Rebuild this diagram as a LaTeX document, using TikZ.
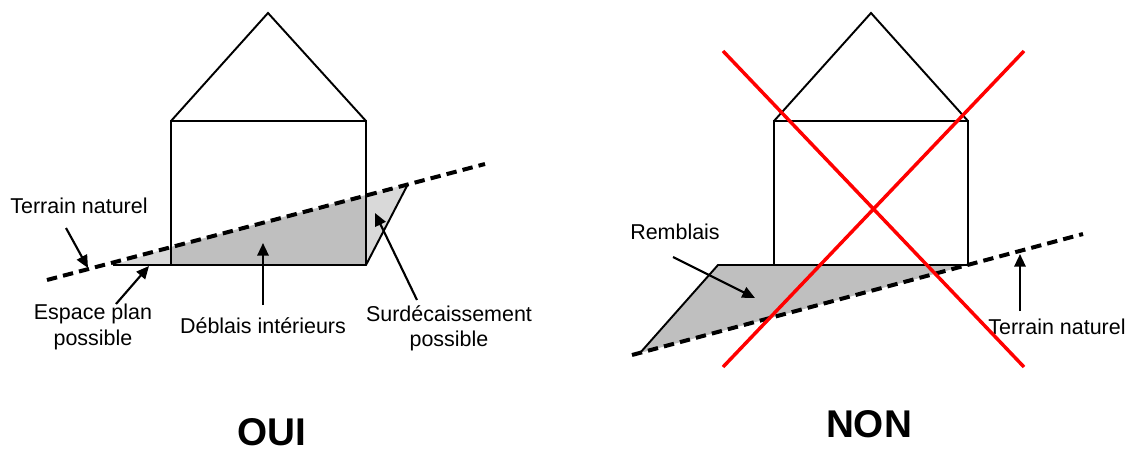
\documentclass[tikz,border=0pt]{standalone}
\usepackage{fontspec}
\setmainfont{Liberation Sans}
\usetikzlibrary{arrows.meta}
\definecolor{fillDark}{gray}{0.75}
\definecolor{fillLight}{gray}{0.85}
\tikzset{
  px/.style={x=0.75pt,y=-0.75pt},
  wall/.style={draw=black,line width=1.45pt,line join=miter},
  ground/.style={draw=black,line width=3pt,dash pattern=on 7.8pt off 4.6pt},
  pointer/.style={draw=black,line width=1.6pt,-{Triangle[length=9.5pt,width=8.5pt]}},
  cross/.style={draw=red,line width=2.6pt},
  lbl/.style={inner sep=0pt,align=center,font=\fontsize{16.1}{19}\selectfont},
  verdict/.style={inner sep=0pt,font=\fontsize{29}{32}\selectfont\bfseries}
}
\begin{document}
\begin{tikzpicture}[px]
\useasboundingbox (0,0) rectangle (1129,450);
% coordinates
\coordinate (La) at (171,121); \coordinate (Lb) at (366,121);
\coordinate (Lc) at (366,265); \coordinate (Ld) at (171,265);
\coordinate (Lr) at (268,13);
\coordinate (Ra) at (774,121); \coordinate (Rb) at (968,121);
\coordinate (Rc) at (968,265); \coordinate (Rd) at (774,265);
\coordinate (Rr) at (871,13);
\coordinate (G1) at (47,280); \coordinate (G2) at (485,164);
\coordinate (H1) at (632,355); \coordinate (H2) at (1083,234);
% fills
\fill[fillDark] (Ld) -- (171,247) -- (366,195) -- (Lc) -- cycle;
\fill[fillLight] (113,265) -- (171,265) -- (171,247) -- cycle;
\fill[fillLight] (Lc) -- (366,195) -- (408,184) -- cycle;
\fill[fillDark] (718,265) -- (Rc) -- (640,353) -- cycle;
% left house
\draw[wall] (Ld) -- (La) -- (Lb) -- (Lc);
\draw[wall] (La) -- (Lr) -- (Lb);
\draw[wall] (113,265) -- (Lc) -- (408,184);
\draw[ground] (G1) -- (G2);
% right house
\draw[wall] (Rd) -- (Ra) -- (Rb) -- (Rc);
\draw[wall] (Ra) -- (Rr) -- (Rb);
\draw[wall] (640,353) -- (718,265) -- (Rc);
\draw[ground] (H1) -- (H2);
% labels
\node[lbl] (tn1) at (79,206) {Terrain naturel};
\node[lbl] (esp) at (93,327) {Espace plan\\possible};
\node[lbl] (deb) at (263,326) {Déblais intérieurs};
\node[lbl] (sur) at (449,328) {Surdécaissement\\possible};
\node[lbl] (rem) at (675,232) {Remblais};
\node[lbl] (tn2) at (1057,327) {Terrain naturel};
\node[verdict] (oui) at (272,432) {OUI};
\node[verdict] (non) at (869,424) {NON};
% pointers
\coordinate (t1) at (88,268); \coordinate (t2) at (149,266);
\coordinate (t3) at (263,243); \coordinate (t4) at (375,213);
\coordinate (t5) at (755,298); \coordinate (t6) at (1020,254);
\coordinate (s1) at (66,228); \coordinate (s2) at (116,304);
\coordinate (s3) at (263,305); \coordinate (s4) at (417,300);
\coordinate (s5) at (673,257); \coordinate (s6) at (1020,311);
\draw[pointer] (s1) -- (t1);
\draw[pointer] (s2) -- (t2);
\draw[pointer] (s3) -- (t3);
\draw[pointer] (s4) -- (t4);
\draw[pointer] (s5) -- (t5);
\draw[pointer] (s6) -- (t6);
% cross
\coordinate (x1) at (723,51); \coordinate (x2) at (1024,367);
\coordinate (x3) at (1024,51); \coordinate (x4) at (723,367);
\draw[cross] (x1) -- (x2);
\draw[cross] (x3) -- (x4);
\end{tikzpicture}
\end{document}
